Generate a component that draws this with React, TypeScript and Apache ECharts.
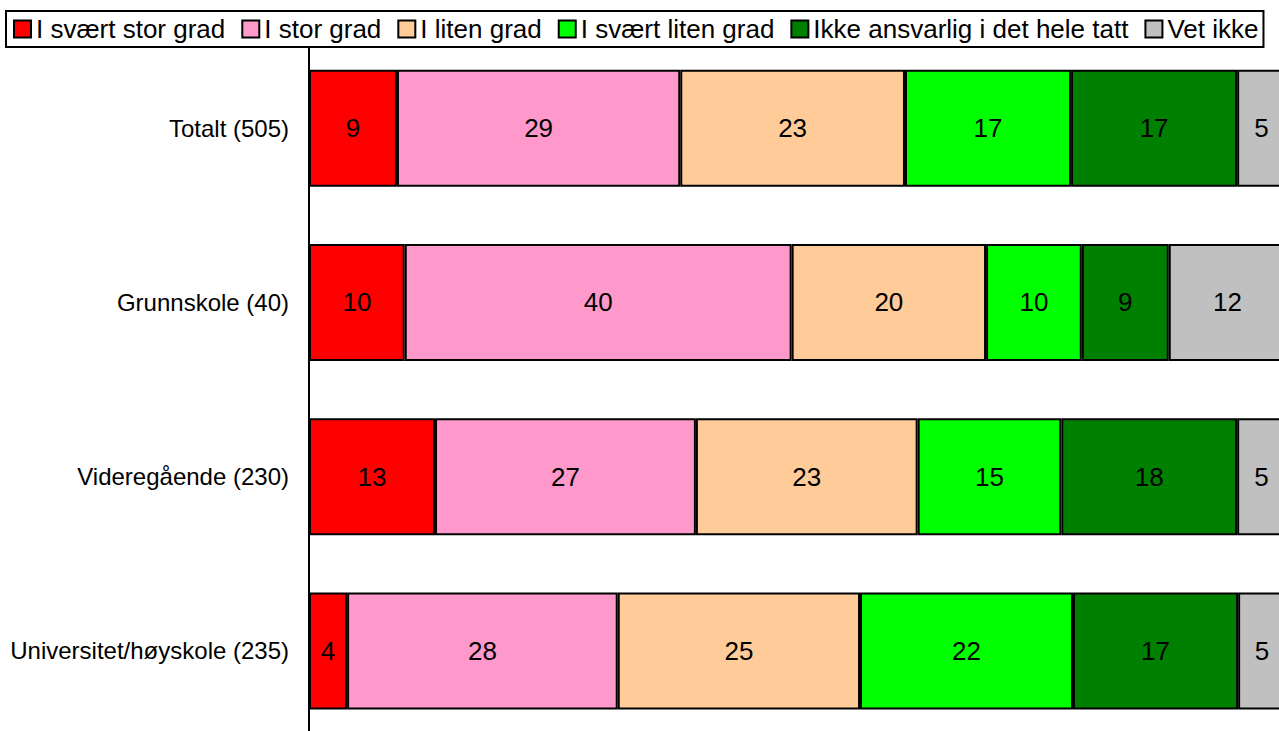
import React, { useEffect, useRef } from "react";
import * as echarts from "echarts";

const categories = ["Totalt (505)", "Grunnskole (40)", "Videregående (230)", "Universitet/høyskole (235)"];
const seriesNames = ["I svært stor grad", "I stor grad", "I liten grad", "I svært liten grad", "Ikke ansvarlig i det hele tatt", "Vet ikke"];
const colors = ["#ff0000", "#ff99cc", "#ffcc99", "#00ff00", "#008000", "#c0c0c0"];
const svaertStor = [9.0, 9.8, 12.9, 3.9];
const stor = [29.0, 39.6, 26.7, 27.7];
const liten = [23.0, 19.9, 22.7, 24.8];
const svaertLiten = [17.0, 9.8, 14.7, 21.8];
const ikkeAnsvarlig = [17.0, 8.9, 18.0, 16.9];
const vetIkke = [5.0, 12.0, 5.0, 4.9];
const seriesValues = [svaertStor, stor, liten, svaertLiten, ikkeAnsvarlig, vetIkke];

const FONT = "'Liberation Sans', Arial, Helvetica, sans-serif";

export default function App() {
  const ref = useRef<HTMLDivElement>(null);
  useEffect(() => {
    if (!ref.current) return;
    document.body.style.overflow = "hidden";
    const chart = echarts.init(ref.current, undefined, { renderer: "svg" });
    chart.setOption({
      animation: false,
      backgroundColor: "#ffffff",
      textStyle: { fontFamily: FONT },
      legend: {
        left: 6,
        top: 11,
        itemWidth: 17,
        itemHeight: 17,
        itemGap: 16,
        padding: [5, 5, 5, 7],
        borderColor: "#000",
        borderWidth: 2,
        backgroundColor: "#fff",
        icon: "rect",
        textStyle: { fontSize: 26, color: "#000", fontFamily: FONT },
        data: seriesNames,
      },
      grid: { left: 309, right: 0, top: 41, bottom: 0, containLabel: false },
      xAxis: { type: "value", min: 0, max: 100, show: false },
      yAxis: {
        type: "category",
        data: categories,
        inverse: true,
        axisLine: { show: true, lineStyle: { color: "#000", width: 2 } },
        axisTick: { show: false },
        splitLine: { show: false },
        axisLabel: { fontSize: 24, color: "#000", margin: 20, fontFamily: FONT },
      },
      series: seriesNames.map((name, i) => ({
        name,
        type: "bar",
        stack: "total",
        barWidth: 117,
        data: seriesValues[i],
        itemStyle: { color: colors[i], borderColor: "#000", borderWidth: 2 },
        label: {
          show: true,
          position: "inside",
          color: "#000",
          fontSize: 26,
          fontFamily: FONT,
          formatter: (p: any) => String(Math.round(p.value)),
        },
      })),
    });
    return () => chart.dispose();
  }, []);
  return <div ref={ref} style={{ position: "fixed", left: 0, top: 0, width: 1286, height: 738 }} />;
}
